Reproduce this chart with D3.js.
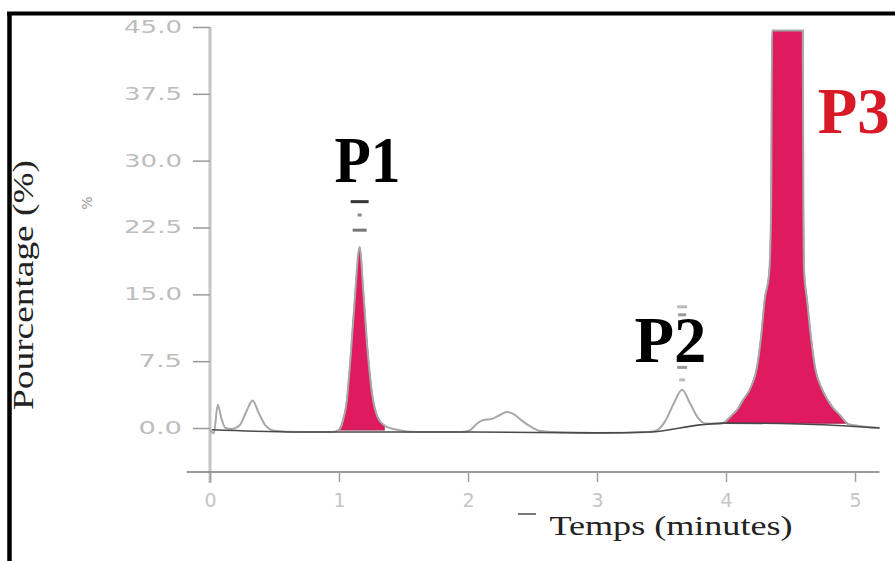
<!DOCTYPE html>
<html>
<head>
<meta charset="utf-8">
<script src="https://cdn.jsdelivr.net/npm/d3@7"></script>
<style>
  body { margin: 0; background: #fff; }
  svg { display: block; }
</style>
</head>
<body>
<div id="chart"></div>
<script>
// ticks
const yTicks = [0, 7.5, 15, 22.5, 30, 37.5, 45];
const xTicks = [0, 1, 2, 3, 4, 5];

// dark baseline of the chromatogram [minutes, %]
const baseTime  = [0.015, 0.70, 2.02, 3.02, 3.41, 3.80, 3.99, 4.57, 5.19];
const baseValue = [-0.2, -0.45, -0.45, -0.55, -0.45, 0.35, 0.55, 0.45, 0.0];

// signal trace [minutes, %]
const sigTime = [0.00, 0.03, 0.06, 0.09, 0.12, 0.17, 0.23, 0.28, 0.33, 0.38, 0.43, 0.50, 0.70, 0.95,
  1.00, 1.03, 1.06, 1.09, 1.12, 1.16, 1.19, 1.22, 1.26, 1.30, 1.35, 1.45, 1.60, 1.95,
  2.02, 2.07, 2.12, 2.18, 2.24, 2.30, 2.36, 2.42, 2.48, 2.55, 2.65, 3.00,
  3.40, 3.47, 3.53, 3.59, 3.66, 3.72, 3.78, 3.84, 3.92,
  3.98, 4.016, 4.05, 4.085, 4.13, 4.19, 4.24, 4.27, 4.30, 4.335, 4.35, 4.357,
  4.48,
  4.595, 4.600, 4.606, 4.628, 4.66, 4.69, 4.74, 4.79, 4.845, 4.88, 4.91, 4.94, 5.00, 5.19];
const sigValue = [-0.2, -0.6, 2.6, 1.0, 0.0, -0.1, 0.3, 1.8, 3.1, 1.6, 0.3, -0.3, -0.45, -0.45,
  -0.2, 0.8, 3.0, 8.0, 14.0, 20.3, 15.0, 9.0, 3.5, 1.2, 0.3, -0.2, -0.45, -0.45,
  -0.2, 0.5, 0.9, 1.0, 1.4, 1.8, 1.5, 0.8, 0.2, -0.3, -0.45, -0.55,
  -0.45, -0.2, 0.8, 2.6, 4.3, 2.8, 1.2, 0.5, 0.45,
  0.55, 1.0, 1.5, 2.0, 3.1, 4.5, 6.8, 10.0, 14.4, 17.5, 25.0, 44.6,
  44.6,
  44.6, 25.0, 17.5, 14.4, 10.0, 6.8, 4.5, 3.1, 2.0, 1.5, 1.0, 0.5, 0.3, 0.0];

// shaded peaks
const peakNames = ["P1", "P3"];
const peakStart = [1.00, 3.98];
const peakEnd   = [1.35, 4.94];

// peak labels
const labelText  = ["P1", "P2", "P3"];
const labelTime  = [1.22, 3.57, 4.99];
const labelValue = [27.6, 7.4, 33.1];
const labelColor = ["#000", "#000", "#d71a26"];

const W = 895, H = 561;
const svg = d3.select("#chart").append("svg").attr("width", W).attr("height", H);
svg.append("rect").attr("width", W).attr("height", H).attr("fill", "#fff");

const x = d3.scaleLinear().domain([0, 5]).range([210, 855]);
const y = d3.scaleLinear().domain([0, 45]).range([428, 27]);

const signal = sigTime.map((t, i) => [t, sigValue[i]]);
const baseline = baseTime.map((t, i) => [t, baseValue[i]]);

// y axis line
svg.append("line")
  .attr("x1", x(0)).attr("x2", x(0))
  .attr("y1", y(45)).attr("y2", 483)
  .attr("stroke", "#c4c4c4").attr("stroke-width", 3);

// y axis ticks
const yAxis = svg.append("g")
  .attr("transform", `translate(${x(0)},0)`)
  .call(d3.axisLeft(y).tickValues(yTicks).tickFormat(d3.format(".1f")).tickSize(17).tickPadding(11));
yAxis.select(".domain").remove();
yAxis.selectAll(".tick line").attr("stroke", "#9a9a9a").attr("stroke-width", 1.5);
yAxis.selectAll(".tick text")
  .attr("fill", "#bdbdbd")
  .attr("font-family", "DejaVu Sans")
  .attr("font-size", 17)
  .attr("textLength", function() { return this.textContent.length * 14.5; })
  .attr("lengthAdjust", "spacingAndGlyphs");

// x axis
const axisY = 472;
svg.append("line")
  .attr("x1", x(-0.18)).attr("x2", x(5.19))
  .attr("y1", axisY).attr("y2", axisY)
  .attr("stroke", "#7a7a7a").attr("stroke-width", 1.5);
const xAxis = svg.append("g")
  .attr("transform", `translate(0,${axisY})`)
  .call(d3.axisBottom(x).tickValues(xTicks).tickFormat(d3.format("d")).tickSize(10).tickPadding(12));
xAxis.select(".domain").remove();
xAxis.selectAll(".tick line").attr("stroke", "#a0a0a0").attr("stroke-width", 1.5);
xAxis.selectAll(".tick text")
  .attr("fill", "#c6c6c6")
  .attr("font-family", "DejaVu Sans")
  .attr("font-size", 19);

// shaded peaks
const area = d3.area().x(d => x(d[0])).y1(d => y(d[1])).curve(d3.curveMonotoneX);
peakNames.forEach((name, i) => {
  const seg = signal.filter(d => d[0] >= peakStart[i] && d[0] <= peakEnd[i]);
  const floor = seg[0][1];
  svg.append("path")
    .datum(seg)
    .attr("d", area.y0(y(floor)))
    .attr("fill", "#e01a5e")
    .attr("stroke", "#b01a4c")
    .attr("stroke-width", 1.2);
});

// signal trace
const line = d3.line().x(d => x(d[0])).y(d => y(d[1])).curve(d3.curveMonotoneX);
svg.append("path")
  .datum(signal)
  .attr("d", line)
  .attr("fill", "none")
  .attr("stroke", "#a8a8a8")
  .attr("stroke-width", 2);

// baseline
svg.append("path")
  .datum(baseline)
  .attr("d", line)
  .attr("fill", "none")
  .attr("stroke", "#4a4a4a")
  .attr("stroke-width", 1.6);

// faint marks above P1 and P2
const markTime  = [1.16, 1.16, 1.16, 3.66, 3.66, 3.66, 3.66];
const markValue = [25.4, 23.9, 22.2, 13.6, 12.7, 6.8, 5.4];
const markWidth = [18, 4, 14, 10, 8, 10, 6];
const markColor = ["#333", "#888", "#777", "#bbb", "#999", "#999", "#bbb"];
svg.append("g").selectAll("line")
  .data(markTime)
  .join("line")
  .attr("x1", (d, i) => x(d) - markWidth[i] / 2)
  .attr("x2", (d, i) => x(d) + markWidth[i] / 2)
  .attr("y1", (d, i) => y(markValue[i]))
  .attr("y2", (d, i) => y(markValue[i]))
  .attr("stroke", (d, i) => markColor[i])
  .attr("stroke-width", 3);

// peak labels
svg.append("g").selectAll("text")
  .data(labelText)
  .join("text")
  .attr("x", (d, i) => x(labelTime[i]))
  .attr("y", (d, i) => y(labelValue[i]))
  .attr("text-anchor", "middle")
  .attr("font-family", "Liberation Serif")
  .attr("font-weight", "bold")
  .attr("font-size", 66)
  .attr("textLength", (d, i) => i === 0 ? 66 : 72)
  .attr("lengthAdjust", "spacingAndGlyphs")
  .attr("fill", (d, i) => labelColor[i])
  .text(d => d);

// axis titles
svg.append("text")
  .attr("transform", "translate(33,285) rotate(-90)")
  .attr("text-anchor", "middle")
  .attr("font-family", "Liberation Serif")
  .attr("font-size", 30)
  .attr("textLength", 250)
  .attr("lengthAdjust", "spacingAndGlyphs")
  .attr("fill", "#222")
  .text("Pourcentage (%)");

svg.append("text")
  .attr("transform", "translate(92,203) rotate(-90)")
  .attr("text-anchor", "middle")
  .attr("font-family", "DejaVu Sans")
  .attr("font-size", 14)
  .attr("fill", "#999")
  .text("%");

svg.append("text")
  .attr("x", 671)
  .attr("y", 535)
  .attr("text-anchor", "middle")
  .attr("font-family", "Liberation Serif")
  .attr("font-size", 27)
  .attr("textLength", 243)
  .attr("lengthAdjust", "spacingAndGlyphs")
  .attr("fill", "#222")
  .text("Temps (minutes)");

svg.append("line")
  .attr("x1", 518).attr("x2", 536).attr("y1", 514).attr("y2", 514)
  .attr("stroke", "#777").attr("stroke-width", 2);

// frame
svg.append("line").attr("x1", 7).attr("x2", W).attr("y1", 13.5).attr("y2", 13.5)
  .attr("stroke", "#000").attr("stroke-width", 4);
svg.append("line").attr("x1", 9.5).attr("x2", 9.5).attr("y1", 12).attr("y2", H)
  .attr("stroke", "#000").attr("stroke-width", 4.5);
</script>
</body>
</html>
